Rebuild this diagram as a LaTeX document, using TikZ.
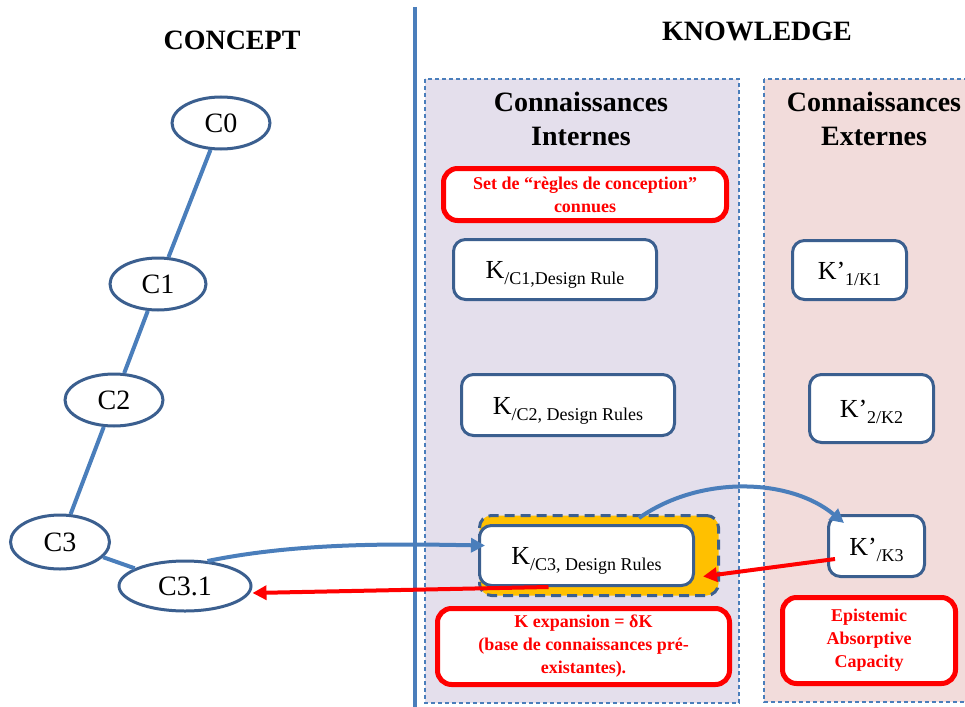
\documentclass[tikz,border=0pt]{standalone}
\usepackage{fontspec}
\setmainfont{Liberation Serif}
\usetikzlibrary{arrows.meta,shapes.geometric}
\definecolor{sepblue}{HTML}{4A7EBB}
\definecolor{darkblue}{HTML}{3B5F8F}
\definecolor{intfill}{HTML}{E4DFEC}
\definecolor{extfill}{HTML}{F2DCDB}
\definecolor{orangefill}{HTML}{FFC000}
\definecolor{myred}{HTML}{FF0000}
\newcommand\KK[2]{{\fontsize{26}{30}\selectfont #1}\raisebox{-6pt}{\fontsize{18}{20}\selectfont #2}}
\begin{document}
\begin{tikzpicture}[x=1pt,y=-1pt,
  conc/.style={ellipse, draw=darkblue, line width=3pt, fill=white, inner sep=0pt, font=\fontsize{28}{30}\selectfont},
  kbox/.style={rectangle, rounded corners=12pt, draw=darkblue, line width=3pt, fill=white, inner sep=0pt, text height=19pt, text depth=1pt},
  rbox/.style={rectangle, rounded corners=14pt, draw=myred, line width=5pt, fill=white, inner sep=0pt, text=myred, font=\bfseries\fontsize{18}{23}\selectfont, align=center},
  titletext/.style={font=\bfseries\fontsize{28}{34}\selectfont, align=center},
  region/.style={draw=sepblue, dash pattern=on 4pt off 3pt, line width=1.2pt},
  link/.style={draw=sepblue, line width=4pt},
  bluearrow/.style={draw=sepblue, line width=4pt, -{Triangle[length=14pt,width=14pt]}},
  redarrow/.style={draw=myred, line width=4pt, -{Triangle[length=14pt,width=14pt]}},
]
\useasboundingbox (0,0) rectangle (965,706);
\clip (0,0) rectangle (965,706);

% regions
\path[fill=intfill, region] (425,79) rectangle (739,703);
\path[fill=extfill, region] (764,79) rectangle (985,702);
\draw[sepblue, line width=4pt] (415,7) -- (415,710);

% titles
\node[titletext] (concept) at (232,40) {CONCEPT};
\node[titletext] (knowledge) at (757,31) {KNOWLEDGE};
\node[titletext] (cint) at (581,118.5) {Connaissances\\Internes};
\node[titletext] (cext) at (874,118.5) {Connaissances\\Externes};

% concept tree
\node[conc, minimum width=98pt, minimum height=52pt] (c0) at (221,123) {C0};
\node[conc, minimum width=96pt, minimum height=52pt] (c1) at (158,284) {C1};
\node[conc, minimum width=98pt, minimum height=52pt] (c2) at (114,400) {C2};
\node[conc, minimum width=99pt, minimum height=54pt] (c3) at (60,542) {C3};
\node[conc, minimum width=132pt, minimum height=50pt] (c31) at (185,586) {C3.1};
\draw[link] (c0) -- (c1);
\draw[link] (c1) -- (c2);
\draw[link] (c2) -- (c3);
\draw[link] (c3) -- (c31);

% internal knowledge
\node[rbox, minimum width=283pt, minimum height=52pt] (rules) at (585,194.5) {Set de “règles de conception”\\connues};
\node[kbox, minimum width=203pt, minimum height=60pt] (kc1) at (555,269.5) {\KK{K}{/C1,Design Rule}};
\node[kbox, minimum width=213pt, minimum height=61pt] (kc2) at (568,405) {\KK{K}{/C2, Design Rules}};
\node[draw=darkblue, fill=orangefill, rounded corners=12pt, line width=3pt, dash pattern=on 10pt off 6pt, minimum width=239pt, minimum height=80pt, inner sep=0pt] (ob) at (599,555.5) {};
\node[kbox, minimum width=214pt, minimum height=60pt] (kc3) at (586.5,555.5) {\KK{K}{/C3, Design Rules}};
\node[rbox, minimum width=292pt, minimum height=76pt] (kexp) at (583.5,646.5) {K expansion = δK\\(base de connaissances pré-\\existantes).};

% external knowledge
\node[kbox, minimum width=114pt, minimum height=59pt] (kp1) at (849.5,270) {\KK{K’}{1/K1}};
\node[kbox, minimum width=124pt, minimum height=68pt] (kp2) at (871.5,408.5) {\KK{K’}{2/K2}};
\node[kbox, minimum width=96pt, minimum height=61pt] (kp3) at (876.5,546) {\KK{K’}{/K3}};
\node[rbox, minimum width=173pt, minimum height=86pt] (eac) at (869,640.5) {Epistemic\\Absorptive\\Capacity};

% arrows
\draw[bluearrow] (c31.48) .. controls (300,542) and (400,544) .. ([xshift=7pt,yshift=10pt]kc3.west);
\draw[bluearrow] ([xshift=40pt,yshift=-4pt]ob.north) .. controls (700,475) and (790,478) .. ([xshift=17pt,yshift=-9pt]kp3.north west);
\draw[redarrow] ([xshift=8pt,yshift=-13pt]kp3.west) -- ([xshift=-17pt,yshift=-21pt]ob.east);
\draw[redarrow] ([xshift=-38pt]kc3.south) -- ([yshift=-7pt]c31.east);
\end{tikzpicture}
\end{document}
